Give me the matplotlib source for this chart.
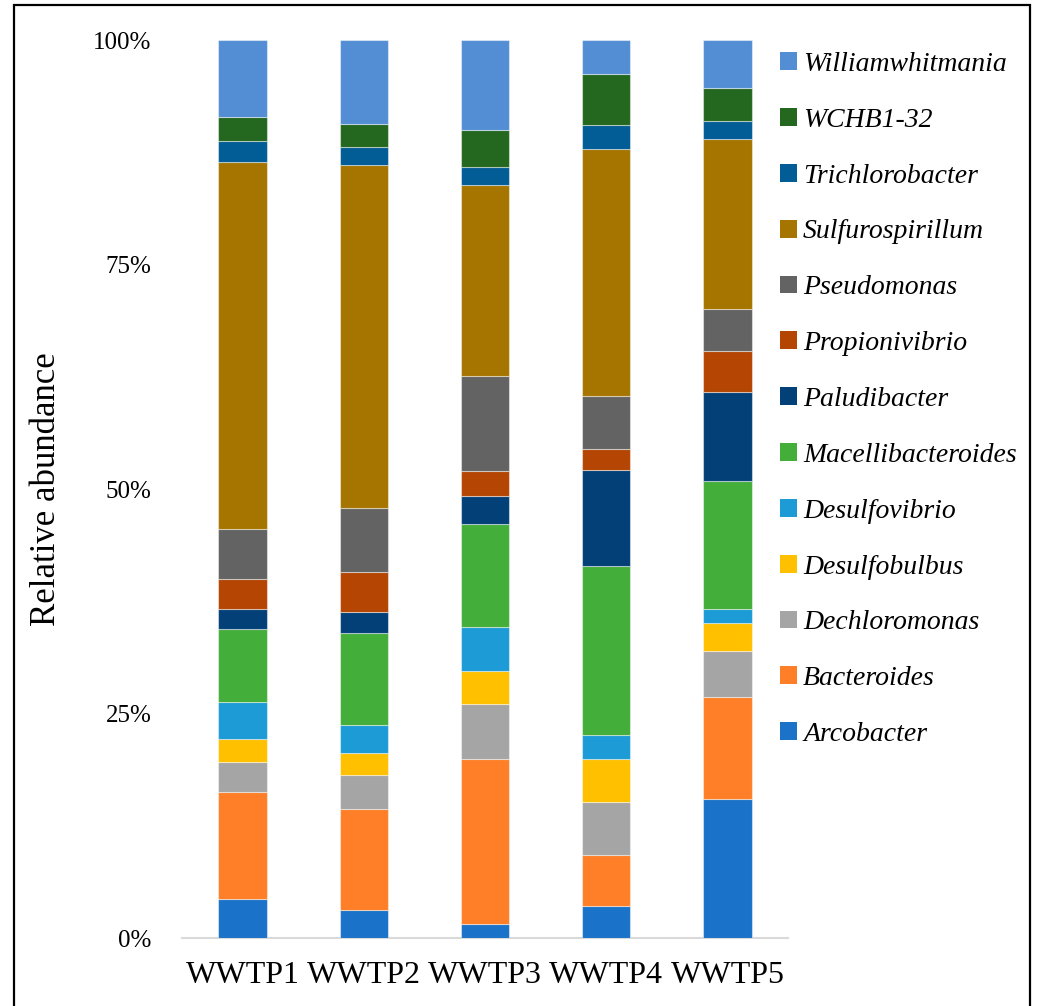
import numpy as np
import matplotlib
matplotlib.use("Agg")
import matplotlib.pyplot as plt
from matplotlib.patches import Rectangle, Patch

plt.rcParams["font.family"] = ["Liberation Serif", "DejaVu Serif"]

SITES = ["WWTP1", "WWTP2", "WWTP3", "WWTP4", "WWTP5"]

# relative abundance (%) per genus, one value per site
arcobacter = [4.34, 3.18, 1.63, 3.63, 15.54]
bacteroides = [11.94, 11.18, 18.30, 5.61, 11.29]
dechloromonas = [3.37, 3.82, 6.19, 5.97, 5.15]
desulfobulbus = [2.49, 2.45, 3.64, 4.75, 3.08]
desulfovibrio = [4.19, 3.08, 4.86, 2.67, 1.63]
macellibacteroides = [8.09, 10.27, 11.50, 18.81, 14.18]
paludibacter = [2.26, 2.37, 3.08, 10.72, 9.97]
propionivibrio = [3.34, 4.39, 2.85, 2.27, 4.50]
pseudomonas = [5.50, 7.12, 10.58, 5.97, 4.68]
sulfurospirillum = [40.92, 38.18, 21.20, 27.46, 18.99]
trichlorobacter = [2.27, 2.00, 2.07, 2.64, 1.94]
wchb1_32 = [2.67, 2.56, 4.09, 5.74, 3.71]
williamwhitmania = [8.61, 9.38, 10.02, 3.75, 5.34]

GENERA = [
    ("Arcobacter", arcobacter, "#1A73C8"),
    ("Bacteroides", bacteroides, "#FE7F27"),
    ("Dechloromonas", dechloromonas, "#A5A5A5"),
    ("Desulfobulbus", desulfobulbus, "#FFC000"),
    ("Desulfovibrio", desulfovibrio, "#1C9BD6"),
    ("Macellibacteroides", macellibacteroides, "#44AE3B"),
    ("Paludibacter", paludibacter, "#024077"),
    ("Propionivibrio", propionivibrio, "#B44502"),
    ("Pseudomonas", pseudomonas, "#636363"),
    ("Sulfurospirillum", sulfurospirillum, "#A57500"),
    ("Trichlorobacter", trichlorobacter, "#025C95"),
    ("WCHB1-32", wchb1_32, "#24671F"),
    ("Williamwhitmania", williamwhitmania, "#538ED4"),
]

W, H = 1038, 1006
fig = plt.figure(figsize=(W / 100, H / 100), dpi=100)
ax = fig.add_axes([182 / W, (H - 938.3) / H, 606 / W, 898.3 / H])

x = np.arange(len(SITES))
bottom = np.zeros(len(SITES))
handles = []
for name, vals, color in GENERA:
    vals = np.array(vals)
    ax.bar(x, vals, bottom=bottom, width=0.4, color=color,
           edgecolor=(1, 1, 1, 0.45), linewidth=0.8, zorder=3)
    bottom += vals
    handles.append(Patch(facecolor=color, edgecolor="none", label=name))

ax.set_xlim(-0.5, len(SITES) - 0.5)
ax.set_ylim(0, 100)
ax.set_yticks([0, 25, 50, 75, 100])
ax.set_yticklabels([f"{v}%" for v in [0, 25, 50, 75, 100]], fontsize=18)
ax.set_xticks(x)
ax.set_xticklabels(SITES, fontsize=23)
ax.tick_params(axis="y", length=0, pad=22)
ax.tick_params(axis="x", length=0, pad=16)
ax.set_ylabel("Relative abundance", fontsize=25, labelpad=22)

for side in ["left", "right", "top"]:
    ax.spines[side].set_visible(False)
ax.spines["bottom"].set_color("#D9D9D9")
ax.spines["bottom"].set_linewidth(1.5)

leg = fig.legend(handles=handles[::-1], loc="upper left",
                 bbox_to_anchor=(780 / W, 1 - 52 / H), frameon=False,
                 prop={"style": "italic", "size": 20},
                 handlelength=0.61, handleheight=0.61, handletextpad=0.22,
                 labelspacing=1.11, borderpad=0, borderaxespad=0)

# outer frame around the whole figure
fig.patches.append(Rectangle((14 / W, -0.02), (1030 - 14) / W, 1 - 5 / H + 0.02,
                             transform=fig.transFigure, fill=False,
                             edgecolor="black", linewidth=1.6))

fig.savefig("out.png", dpi=100)
